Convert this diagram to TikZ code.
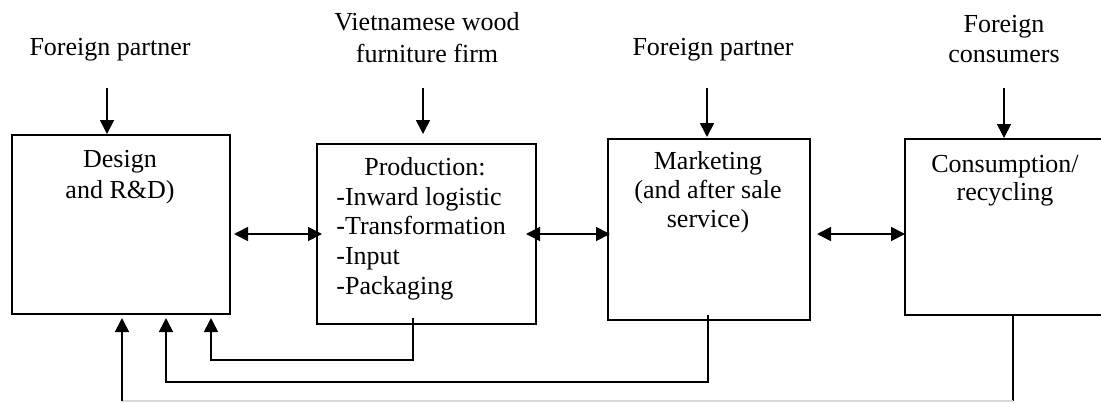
\documentclass[tikz,border=0pt]{standalone}
\usepackage{fontspec}
\setmainfont{Liberation Serif}
\usetikzlibrary{arrows.meta}
\begin{document}
\begin{tikzpicture}[x=0.5pt,y=-0.5pt,
  every node/.style={font=\fontsize{13}{15}\selectfont},
  boxshape/.style={draw=black,line width=0.85pt,inner sep=0pt,anchor=north west},
  conn/.style={line width=0.85pt},
  arr/.style={conn,-{Triangle[length=7pt,width=7pt]}},
  darr/.style={conn,{Triangle[length=7pt,width=7pt]}-{Triangle[length=7pt,width=7pt]}},
  lbl/.style={inner sep=0pt,align=center,anchor=base}]
\useasboundingbox[fill=white] (0,0) rectangle (1101,402);

% boxes
\node[boxshape,minimum width=109pt,minimum height=89.5pt] (design) at (11,134) {};
\node[boxshape,minimum width=109.5pt,minimum height=90pt] (prod) at (316,143) {};
\node[boxshape,minimum width=101pt,minimum height=90.5pt] (mkt) at (607,138) {};
\node[inner sep=0pt,anchor=north west,minimum width=100pt,minimum height=87.5pt] (cons) at (905,139) {};
\draw[line width=0.85pt] (cons.north east) -- (cons.north west) -- (cons.south west) -- (cons.south east);

% texts in boxes (base anchor = baseline of the last line)
\node[lbl,font=\fontsize{13}{15.5}\selectfont] (tdesign) at (120,198) {Design\\and R\&D)};
\node[lbl] (tprod) at (425,175) {Production:};
\node[inner sep=0pt,align=left,anchor=base west,font=\fontsize{13}{14.8}\selectfont] (tlist) at (336,294) {-Inward logistic\\-Transformation\\-Input\\-Packaging};
\node[lbl,font=\fontsize{13}{14.3}\selectfont] (tmkt) at (708,227) {Marketing\\(and after sale\\service)};
\node[lbl,font=\fontsize{13}{14}\selectfont] (tcons) at (1005,200) {Consumption/\\recycling};

% top labels
\node[lbl] (l1) at (110,55) {Foreign partner};
\node[lbl,font=\fontsize{13}{16}\selectfont] (l2) at (427,62) {Vietnamese wood\\furniture firm};
\node[lbl] (l3) at (713,55) {Foreign partner};
\node[lbl,font=\fontsize{13}{15}\selectfont] (l4) at (1004,62) {Foreign\\consumers};

% top arrows
\coordinate (s1) at (107,88);  \coordinate (e1) at (107,134);
\coordinate (s2) at (423,88);  \coordinate (e2) at (423,134);
\coordinate (s3) at (707,88);  \coordinate (e3) at (707,137);
\coordinate (s4) at (1004,88); \coordinate (e4) at (1004,138);
\draw[arr] (s1) -- (e1);
\draw[arr] (s2) -- (e2);
\draw[arr] (s3) -- (e3);
\draw[arr] (s4) -- (e4);

% horizontal double arrows
\coordinate (h1a) at (234,234); \coordinate (h1b) at (322,234);
\coordinate (h2a) at (526,234); \coordinate (h2b) at (610,234);
\coordinate (h3a) at (817,234); \coordinate (h3b) at (905,234);
\draw[darr] (h1a) -- (h1b);
\draw[darr] (h2a) -- (h2b);
\draw[darr] (h3a) -- (h3b);

% feedback connectors
\coordinate (pb) at (413,318);  \coordinate (d1) at (211,318);
\coordinate (mb) at (708,315);  \coordinate (d2) at (166,318);
\coordinate (cb) at (1013,314); \coordinate (d3) at (122,318);
\coordinate (c1) at (1013,401); \coordinate (c2) at (122,401);
\draw[arr] (pb) -- (413,360) -| (d1);
\draw[arr] (mb) -- (708,382) -| (d2);
\draw[conn] (cb) -- (c1);
\draw[conn,black!15] (c1) -- (c2);
\draw[arr] (c2) -- (d3);
\end{tikzpicture}
\end{document}
